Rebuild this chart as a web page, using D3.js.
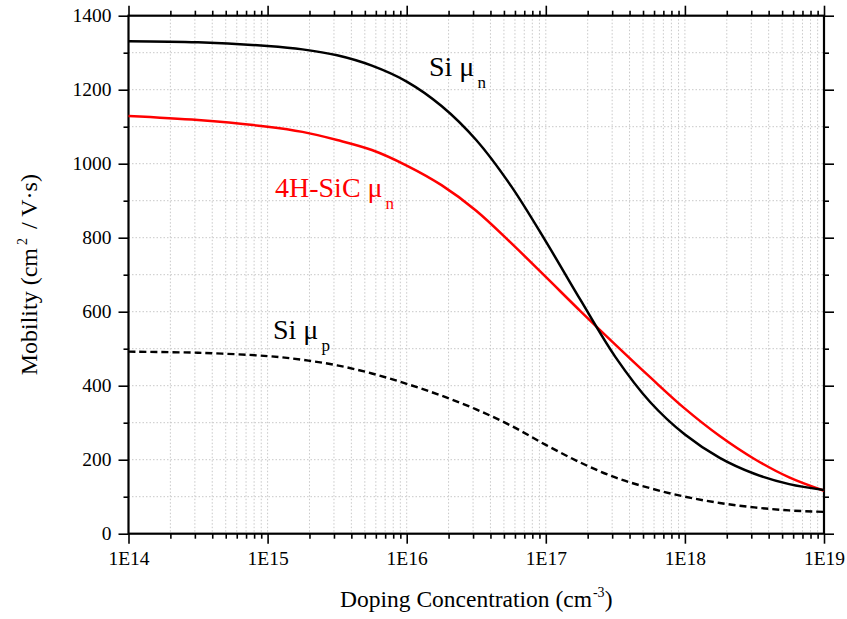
<!DOCTYPE html>
<html>
<head>
<meta charset="utf-8">
<script src="https://cdn.jsdelivr.net/npm/d3@7"></script>
<style>
  body { margin: 0; background: #fff; }
  svg text { font-family: "Liberation Serif", "Times New Roman", serif; }
</style>
</head>
<body>
<div id="chart"></div>
<script>
// doping concentration (cm^-3), quarter-decade steps
var doping = [1e14, 3.16e14, 1e15, 1.78e15, 3.16e15, 5.62e15, 1e16, 1.78e16, 3.16e16, 5.62e16,
              1e17, 1.78e17, 3.16e17, 5.62e17, 1e18, 1.78e18, 3.16e18, 5.62e18, 1e19];
var siElectron = [1331, 1328, 1318, 1309, 1293, 1265, 1222, 1156, 1064, 940,
                  790, 631, 478, 356, 268, 205, 162, 134, 118];
var sicElectron = [1129, 1118, 1100, 1086, 1064, 1037, 995, 942, 873, 786,
                   694, 601, 511, 423, 338, 264, 202, 152, 116];
var siHole = [492, 489, 480, 470, 455, 433, 405, 373, 336, 292,
              240, 192, 152, 123, 100, 83, 71, 63, 59];

var xMajor = [1e14, 1e15, 1e16, 1e17, 1e18, 1e19];
var xMajorLabels = ['1E14', '1E15', '1E16', '1E17', '1E18', '1E19'];
var yMajor = [0, 200, 400, 600, 800, 1000, 1200, 1400];
var yMinor = [100, 300, 500, 700, 900, 1100, 1300];

var width = 847, height = 619;
var plotLeft = 128.5, plotRight = 824, plotTop = 15.7, plotBottom = 533.7;

var svg = d3.select('#chart').append('svg')
    .attr('width', width)
    .attr('height', height);

var x = d3.scaleLog().domain([1e14, 1e19]).range([plotLeft, plotRight]);
var y = d3.scaleLinear().domain([0, 1400]).range([plotBottom, plotTop]);

// minor log ticks 2..9 in every decade
var xMinor = x.ticks().filter(function(d) {
    return !xMajor.some(function(m) { return Math.abs(m - d) / m < 1e-6; });
});

// grid
var grid = svg.append('g')
    .attr('stroke', '#c8c8c8')
    .attr('stroke-width', 1)
    .attr('stroke-dasharray', '1.5,2');
grid.selectAll('line.vx')
    .data(xMinor.concat(xMajor.slice(1, -1)))
    .enter().append('line')
    .attr('x1', function(d) { return x(d); })
    .attr('x2', function(d) { return x(d); })
    .attr('y1', plotTop).attr('y2', plotBottom);
grid.selectAll('line.hy')
    .data(yMinor.concat(yMajor.slice(1, -1)))
    .enter().append('line')
    .attr('y1', function(d) { return y(d); })
    .attr('y2', function(d) { return y(d); })
    .attr('x1', plotLeft).attr('x2', plotRight);

function styleAxis(g) {
    g.select('.domain').remove();
    g.selectAll('.tick line').attr('stroke', '#000').attr('stroke-width', 1.6);
    g.selectAll('.tick text')
        .attr('fill', '#000')
        .style('font-size', '19.5px')
        .style('font-family', '"Liberation Serif", serif');
}

// bottom axis
svg.append('g')
    .attr('transform', 'translate(0,' + plotBottom + ')')
    .call(d3.axisBottom(x).tickValues(xMajor).tickSize(10).tickPadding(7)
        .tickFormat(function(d, i) { return xMajorLabels[i]; }))
    .call(styleAxis);
svg.append('g')
    .attr('transform', 'translate(0,' + plotBottom + ')')
    .call(d3.axisBottom(x).tickValues(xMinor).tickSize(5).tickFormat(''))
    .call(styleAxis);

// top axis (ticks only)
svg.append('g')
    .attr('transform', 'translate(0,' + plotTop + ')')
    .call(d3.axisTop(x).tickValues(xMajor).tickSize(10).tickFormat(''))
    .call(styleAxis);
svg.append('g')
    .attr('transform', 'translate(0,' + plotTop + ')')
    .call(d3.axisTop(x).tickValues(xMinor).tickSize(5).tickFormat(''))
    .call(styleAxis);

// left axis
svg.append('g')
    .attr('transform', 'translate(' + plotLeft + ',0)')
    .call(d3.axisLeft(y).tickValues(yMajor).tickSize(10).tickPadding(7).tickFormat(d3.format('d')))
    .call(styleAxis);
svg.append('g')
    .attr('transform', 'translate(' + plotLeft + ',0)')
    .call(d3.axisLeft(y).tickValues(yMinor).tickSize(5).tickFormat(''))
    .call(styleAxis);

// right axis (ticks only)
svg.append('g')
    .attr('transform', 'translate(' + plotRight + ',0)')
    .call(d3.axisRight(y).tickValues(yMajor).tickSize(10).tickFormat(''))
    .call(styleAxis);
svg.append('g')
    .attr('transform', 'translate(' + plotRight + ',0)')
    .call(d3.axisRight(y).tickValues(yMinor).tickSize(5).tickFormat(''))
    .call(styleAxis);

// frame
svg.append('rect')
    .attr('x', plotLeft).attr('y', plotTop)
    .attr('width', plotRight - plotLeft).attr('height', plotBottom - plotTop)
    .attr('fill', 'none')
    .attr('stroke', '#000')
    .attr('stroke-width', 2.2);

// curves
var line = d3.line()
    .curve(d3.curveCatmullRom.alpha(0.5))
    .x(function(d) { return x(d[0]); })
    .y(function(d) { return y(d[1]); });

function series(vals) {
    return doping.map(function(c, i) { return [c, vals[i]]; });
}

svg.append('path')
    .datum(series(siHole))
    .attr('d', line)
    .attr('fill', 'none')
    .attr('stroke', '#000')
    .attr('stroke-width', 2.4)
    .attr('stroke-dasharray', '7,4');

svg.append('path')
    .datum(series(sicElectron))
    .attr('d', line)
    .attr('fill', 'none')
    .attr('stroke', '#ff0000')
    .attr('stroke-width', 2.5);

svg.append('path')
    .datum(series(siElectron))
    .attr('d', line)
    .attr('fill', 'none')
    .attr('stroke', '#000')
    .attr('stroke-width', 2.5);

// curve labels with subscripts
function curveLabel(px, py, main, sub, color) {
    var t = svg.append('text')
        .attr('x', px).attr('y', py)
        .attr('fill', color)
        .style('font-size', '28px');
    t.append('tspan').text(main);
    t.append('tspan')
        .attr('dx', 3).attr('dy', 12)
        .style('font-size', '17px')
        .text(sub);
}
curveLabel(429, 76, 'Si \u03bc', 'n', '#000');
curveLabel(275, 197, '4H-SiC \u03bc', 'n', '#ff0000');
curveLabel(273, 339, 'Si \u03bc', 'p', '#000');

// axis titles
var xt = svg.append('text')
    .attr('x', (plotLeft + plotRight) / 2)
    .attr('y', 607)
    .attr('text-anchor', 'middle')
    .attr('fill', '#000')
    .style('font-size', '23.5px');
xt.append('tspan').text('Doping Concentration (cm');
xt.append('tspan').attr('dy', -10).attr('dx', 1).style('font-size', '14px').text('-3');
xt.append('tspan').attr('dy', 10).text(')');

var yt = svg.append('text')
    .attr('transform', 'translate(37,' + ((plotTop + plotBottom) / 2) + ') rotate(-90)')
    .attr('text-anchor', 'middle')
    .attr('fill', '#000')
    .style('font-size', '24px');
yt.append('tspan').text('Mobility (cm');
yt.append('tspan').attr('dy', -10).attr('dx', 3).style('font-size', '14px').text('2');
yt.append('tspan').attr('dy', 10).attr('dx', 3).text(' / V\u00b7s)');
</script>
</body>
</html>
